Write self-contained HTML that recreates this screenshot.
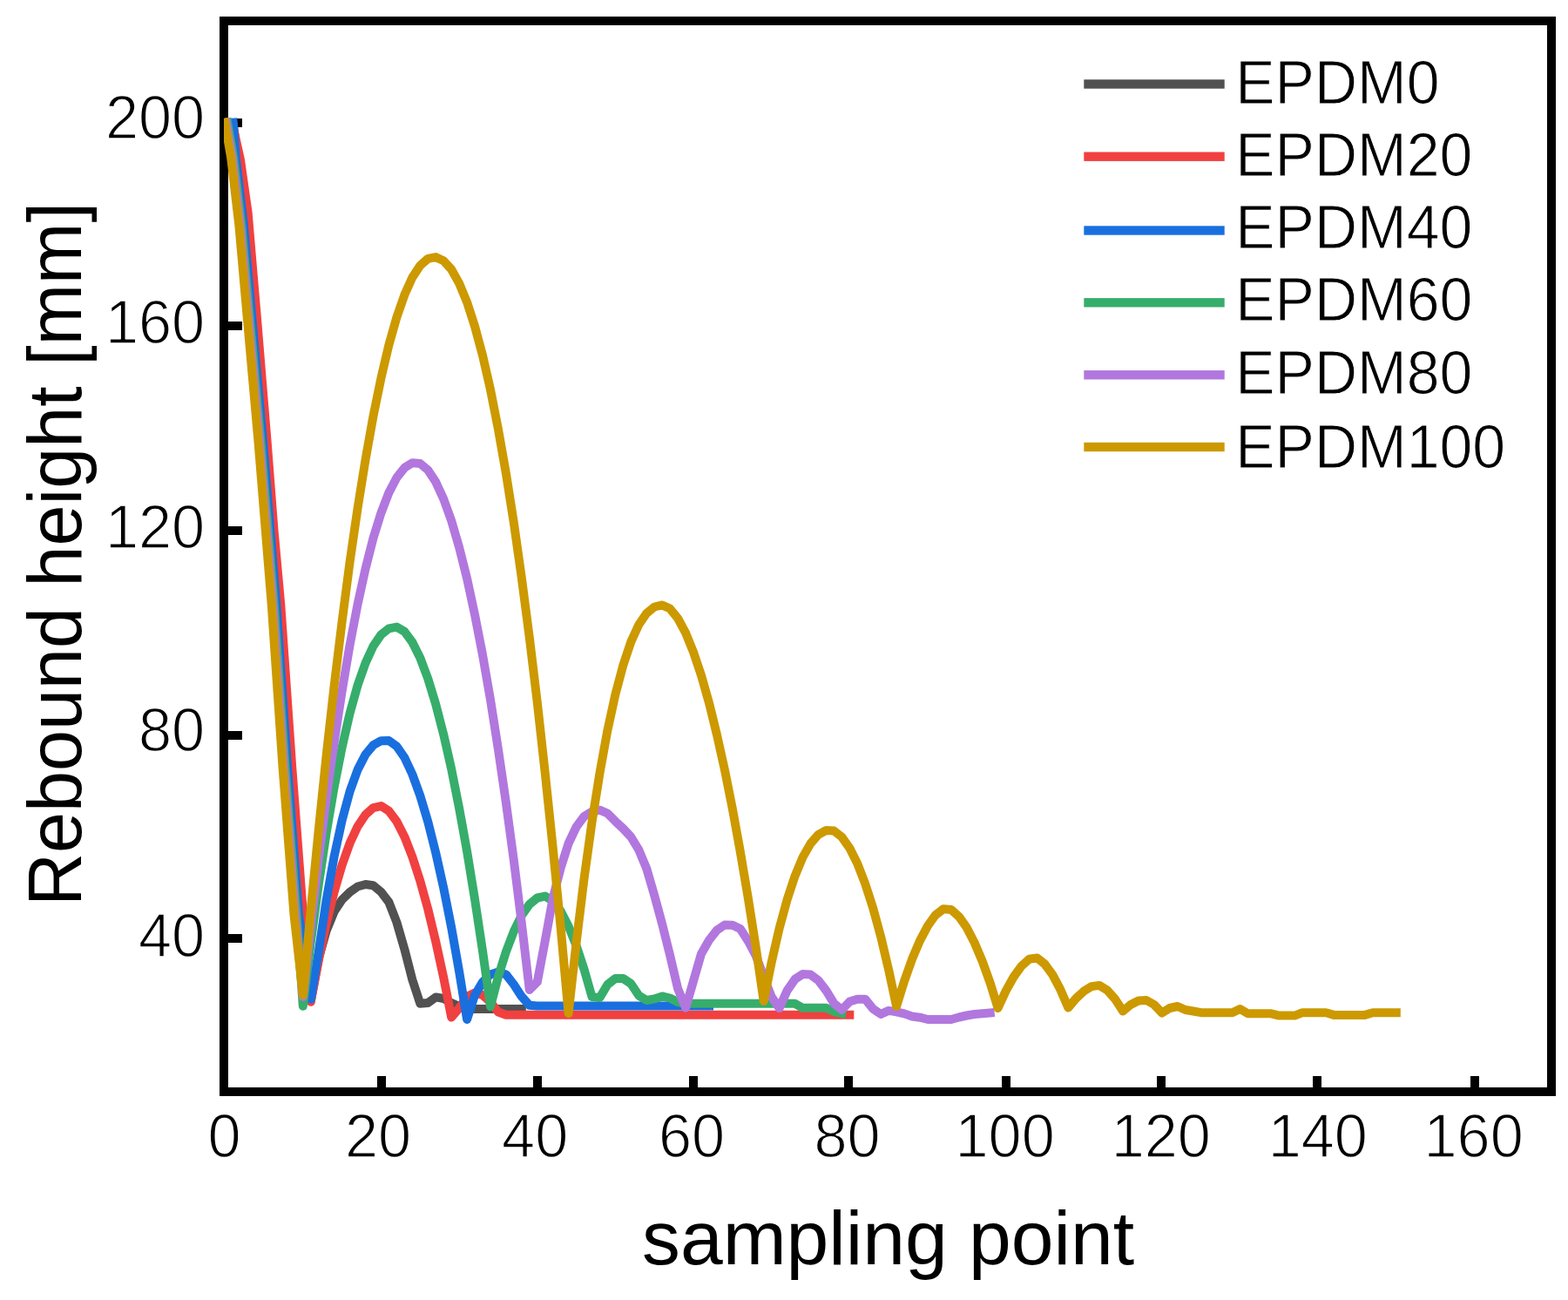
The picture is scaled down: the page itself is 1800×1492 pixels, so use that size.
<!DOCTYPE html>
<html lang="en">
<head>
<meta charset="utf-8">
<title>Rebound height vs sampling point</title>
<style>
html,body{margin:0;padding:0;background:#fff;}
body{width:1800px;height:1492px;overflow:hidden;}
svg{display:block;}
text{font-family:"Liberation Sans",sans-serif;fill:#000;}
.c{fill:none;stroke-width:10;stroke-linejoin:round;stroke-linecap:square;}
.tl{stroke:#fff;stroke-width:1.0;stroke-linejoin:round;}
.tt text{stroke:#fff;stroke-width:1.4;stroke-linejoin:round;}
</style>
</head>
<body>
<svg width="1800" height="1492" viewBox="0 0 1800 1492">
<rect x="0" y="0" width="1800" height="1492" fill="#ffffff"/>
<defs><clipPath id="plot"><rect x="257" y="24" width="1524" height="1229"/></clipPath></defs>
<g fill="#000" shape-rendering="crispEdges">
<rect x="252" y="19" width="1534" height="10"/>
<rect x="252" y="1248" width="1534" height="10"/>
<rect x="252" y="19" width="10" height="1239"/>
<rect x="1776" y="19" width="10" height="1239"/>
<rect x="433.3" y="1235" width="10" height="14"/>
<rect x="612.0" y="1235" width="10" height="14"/>
<rect x="790.7" y="1235" width="10" height="14"/>
<rect x="969.0" y="1235" width="10" height="14"/>
<rect x="1150.0" y="1235" width="10" height="14"/>
<rect x="1328.3" y="1235" width="10" height="14"/>
<rect x="1507.0" y="1235" width="10" height="14"/>
<rect x="1688.0" y="1235" width="10" height="14"/>
<rect x="261" y="135.5" width="17" height="10.3"/>
<rect x="261" y="368.6" width="17" height="10.3"/>
<rect x="261" y="603.9" width="17" height="10.3"/>
<rect x="261" y="839.0" width="17" height="10.3"/>
<rect x="261" y="1072.0" width="17" height="10.3"/>
</g>
<g clip-path="url(#plot)">
<path class="c" stroke="#515151" d="M268.0,145.0 L273.2,181.0 L282.4,259.0 L293.5,384.0 L304.5,507.0 L319.8,694.5 L332.5,880.0 L345.5,1050.0 L356.8,1148.0 L365.8,1100.0 L374.7,1068.0 L383.7,1046.0 L392.7,1032.5 L401.6,1023.8 L410.6,1017.5 L419.6,1015.0 L428.5,1016.2 L437.5,1023.8 L446.4,1035.4 L455.4,1058.5 L464.4,1089.6 L473.3,1124.2 L482.3,1151.7 L491.3,1151.0 L500.2,1144.4 L509.2,1146.0 L518.2,1151.0 L527.1,1155.0 L536.1,1158.0 L545.0,1158.0 L554.0,1158.0 L563.0,1158.0 L571.9,1158.0 L580.9,1158.0 L589.9,1158.0 L598.8,1158.0"/>
<path class="c" stroke="#F14040" d="M269.0,152.0 L275.9,183.0 L284.6,244.0 L295.4,371.0 L306.6,507.0 L314.6,610.0 L322.3,694.5 L335.2,880.0 L348.0,1050.0 L356.8,1149.7 L365.8,1101.9 L374.7,1059.7 L383.7,1023.3 L392.7,992.6 L401.6,967.7 L410.6,948.4 L419.6,934.9 L428.5,927.1 L437.5,925.1 L446.4,930.7 L455.4,942.7 L464.4,960.4 L473.3,983.3 L482.3,1011.0 L491.3,1043.5 L500.2,1080.5 L509.2,1121.9 L518.2,1167.6 L527.1,1157.0 L536.1,1143.7 L545.0,1139.4 L554.0,1142.0 L563.0,1150.0 L571.9,1161.5 L580.9,1164.7 L589.9,1164.7 L598.8,1164.7 L607.8,1164.7 L616.8,1164.7 L625.7,1164.7 L634.7,1164.7 L643.7,1164.7 L652.6,1164.7 L661.6,1164.7 L670.5,1164.7 L679.5,1164.7 L688.5,1164.7 L697.4,1164.7 L706.4,1164.7 L715.4,1164.7 L724.3,1164.7 L733.3,1164.7 L742.3,1164.7 L751.2,1164.7 L760.2,1164.7 L769.1,1164.7 L778.1,1164.7 L787.1,1164.7 L796.0,1164.7 L805.0,1164.7 L814.0,1164.7 L822.9,1164.7 L831.9,1164.7 L840.9,1164.7 L849.8,1164.7 L858.8,1164.7 L867.8,1164.7 L876.7,1164.7 L885.7,1164.7 L894.6,1164.7 L903.6,1164.7 L912.6,1164.7 L921.5,1164.7 L930.5,1164.7 L939.5,1164.7 L948.4,1164.7 L957.4,1164.7 L966.4,1164.7 L975.3,1164.7"/>
<path class="c" stroke="#1A6FDF" d="M267.6,140.5 L270.7,181.0 L279.9,259.0 L291.0,384.0 L302.0,507.0 L317.3,694.5 L330.0,880.0 L343.0,1050.0 L356.8,1146.7 L365.8,1092.0 L374.7,1032.6 L383.7,982.5 L392.7,941.2 L401.6,908.3 L410.6,883.4 L419.6,865.9 L428.5,855.2 L437.5,850.2 L446.4,850.0 L455.4,856.5 L464.4,869.5 L473.3,888.5 L482.3,913.2 L491.3,943.3 L500.2,978.6 L509.2,1019.0 L518.2,1064.5 L527.1,1114.8 L536.1,1170.0 L545.0,1142.3 L554.0,1127.0 L563.0,1118.4 L571.9,1115.6 L580.9,1118.4 L589.9,1130.0 L598.8,1143.7 L607.8,1153.8 L616.8,1154.5 L625.7,1154.5 L634.7,1154.5 L643.7,1154.5 L652.6,1154.5 L661.6,1154.5 L670.5,1154.5 L679.5,1154.5 L688.5,1154.5 L697.4,1154.5 L706.4,1154.5 L715.4,1154.5 L724.3,1154.5 L733.3,1154.5 L742.3,1154.5 L751.2,1154.5 L760.2,1154.5 L769.1,1154.5 L778.1,1154.5 L787.1,1154.5 L796.0,1154.5 L805.0,1154.5 L814.0,1154.5"/>
<path class="c" stroke="#37AD6B" d="M261.2,140.5 L268.2,181.0 L277.4,259.0 L288.5,384.0 L299.5,507.0 L314.8,694.5 L327.5,880.0 L340.5,1050.0 L347.8,1154.7 L356.8,1081.2 L365.8,1014.8 L374.7,955.5 L383.7,903.0 L392.7,857.4 L401.6,818.6 L410.6,786.4 L419.6,760.8 L428.5,741.5 L437.5,728.4 L446.4,721.3 L455.4,719.6 L464.4,724.9 L473.3,737.0 L482.3,755.1 L491.3,779.0 L500.2,808.3 L509.2,842.9 L518.2,882.6 L527.1,927.5 L536.1,977.2 L545.0,1031.8 L554.0,1091.2 L563.0,1155.3 L571.9,1121.0 L580.9,1092.2 L589.9,1068.7 L598.8,1050.6 L607.8,1037.8 L616.8,1030.5 L625.7,1028.6 L634.7,1034.1 L643.7,1045.8 L652.6,1063.0 L661.6,1085.3 L670.5,1112.4 L679.5,1144.0 L688.5,1145.0 L697.4,1130.0 L706.4,1123.0 L715.4,1123.0 L724.3,1129.0 L733.3,1142.6 L742.3,1148.0 L751.2,1146.4 L760.2,1143.4 L769.1,1145.5 L778.1,1150.0 L787.1,1151.8 L796.0,1151.8 L805.0,1151.8 L814.0,1151.8 L822.9,1151.8 L831.9,1151.8 L840.9,1151.8 L849.8,1151.8 L858.8,1151.8 L867.8,1151.8 L876.7,1151.8 L885.7,1151.8 L894.6,1151.8 L903.6,1151.8 L912.6,1151.8 L921.5,1156.8 L930.5,1156.8 L939.5,1156.8 L948.4,1156.8 L957.4,1161.0 L966.4,1163.0"/>
<path class="c" stroke="#B177DE" d="M259.7,140.5 L266.7,181.0 L275.9,259.0 L287.0,384.0 L298.0,507.0 L313.3,694.5 L326.0,880.0 L339.0,1050.0 L347.8,1144.0 L356.8,1062.0 L365.8,985.8 L374.7,915.5 L383.7,851.2 L392.7,792.7 L401.6,740.1 L410.6,693.4 L419.6,652.5 L428.5,617.6 L437.5,588.6 L446.4,565.4 L455.4,548.2 L464.4,536.8 L473.3,531.3 L482.3,532.0 L491.3,539.5 L500.2,553.1 L509.2,572.6 L518.2,597.6 L527.1,628.1 L536.1,664.0 L545.0,705.2 L554.0,751.5 L563.0,803.1 L571.9,859.7 L580.9,921.3 L589.9,987.9 L598.8,1059.5 L607.8,1136.0 L616.8,1127.0 L625.7,1080.0 L634.7,1031.0 L643.7,996.0 L652.6,968.0 L661.6,949.0 L670.5,937.0 L679.5,931.5 L688.5,929.7 L697.4,933.5 L706.4,942.6 L715.4,951.0 L724.3,960.5 L733.3,975.3 L742.3,997.0 L751.2,1027.6 L760.2,1060.7 L769.1,1096.4 L778.1,1134.7 L787.1,1156.7 L796.0,1126.0 L805.0,1094.7 L814.0,1079.0 L822.9,1067.7 L831.9,1061.5 L840.9,1061.7 L849.8,1066.0 L858.8,1080.0 L867.8,1097.0 L876.7,1121.0 L885.7,1144.0 L894.6,1157.1 L903.6,1136.9 L912.6,1123.8 L921.5,1118.0 L930.5,1118.6 L939.5,1125.2 L948.4,1136.9 L957.4,1151.7 L966.4,1158.9 L975.3,1149.6 L984.3,1146.7 L993.2,1146.7 L1002.2,1157.8 L1011.2,1164.0 L1020.1,1159.9 L1029.1,1161.3 L1038.1,1163.4 L1047.0,1166.5 L1056.0,1167.7 L1065.0,1170.0 L1073.9,1170.0 L1082.9,1170.0 L1091.9,1170.0 L1100.8,1167.5 L1109.8,1165.5 L1118.7,1164.0 L1127.7,1163.2 L1136.7,1162.4"/>
<path class="c" stroke="#CC9900" d="M258.2,140.5 L265.2,181.0 L274.4,259.0 L285.5,384.0 L296.5,507.0 L311.8,694.5 L324.5,880.0 L337.5,1050.0 L347.8,1142.0 L356.8,1044.1 L365.8,952.3 L374.7,866.5 L383.7,786.6 L392.7,712.8 L401.6,644.9 L410.6,583.1 L419.6,527.3 L428.5,477.5 L437.5,433.7 L446.4,395.9 L455.4,364.1 L464.4,338.3 L473.3,318.5 L482.3,304.7 L491.3,296.9 L500.2,295.1 L509.2,299.3 L518.2,309.2 L527.1,325.1 L536.1,346.8 L545.0,374.4 L554.0,407.9 L563.0,447.2 L571.9,492.4 L580.9,543.4 L589.9,600.4 L598.8,663.1 L607.8,731.8 L616.8,806.3 L625.7,886.7 L634.7,972.9 L643.7,1065.0 L652.6,1163.0 L661.6,1081.6 L670.5,1008.6 L679.5,943.8 L688.5,887.1 L697.4,838.2 L706.4,797.0 L715.4,763.3 L724.3,736.7 L733.3,717.0 L742.3,703.8 L751.2,696.5 L760.2,694.4 L769.1,698.6 L778.1,709.6 L787.1,726.3 L796.0,748.3 L805.0,775.2 L814.0,806.8 L822.9,843.0 L831.9,883.5 L840.9,928.4 L849.8,977.5 L858.8,1030.6 L867.8,1087.8 L876.7,1149.0 L885.7,1104.3 L894.6,1065.5 L903.6,1032.5 L912.6,1005.3 L921.5,983.9 L930.5,968.1 L939.5,957.8 L948.4,953.0 L957.4,953.6 L966.4,960.6 L975.3,973.3 L984.3,991.2 L993.2,1014.3 L1002.2,1042.3 L1011.2,1075.2 L1020.1,1112.8 L1029.1,1155.0 L1038.1,1126.0 L1047.0,1100.8 L1056.0,1079.6 L1065.0,1062.6 L1073.9,1050.2 L1082.9,1043.2 L1091.9,1044.0 L1100.8,1051.9 L1109.8,1064.7 L1118.7,1082.0 L1127.7,1103.3 L1136.7,1128.3 L1145.6,1157.0 L1154.6,1137.4 L1163.6,1121.2 L1172.5,1108.9 L1181.5,1100.8 L1190.5,1099.4 L1199.4,1106.5 L1208.4,1118.9 L1217.3,1135.7 L1226.3,1156.5 L1235.3,1145.8 L1244.2,1137.6 L1253.2,1132.1 L1262.2,1130.9 L1271.1,1136.5 L1280.1,1146.6 L1289.1,1160.5 L1298.0,1153.0 L1307.0,1148.5 L1316.0,1148.0 L1324.9,1153.0 L1333.9,1162.5 L1342.8,1157.0 L1351.8,1155.0 L1360.8,1159.0 L1369.7,1160.5 L1378.7,1162.2 L1387.7,1162.2 L1396.6,1162.2 L1405.6,1162.2 L1414.6,1162.2 L1423.5,1158.0 L1432.5,1163.3 L1441.4,1163.3 L1450.4,1163.3 L1459.4,1163.3 L1468.3,1165.6 L1477.3,1165.6 L1486.3,1165.6 L1495.2,1162.2 L1504.2,1162.2 L1513.2,1162.2 L1522.1,1162.2 L1531.1,1164.9 L1540.1,1164.9 L1549.0,1164.9 L1558.0,1164.9 L1566.9,1164.9 L1575.9,1162.2 L1584.9,1162.2 L1593.8,1162.2 L1602.8,1162.2"/>
</g>
<g>
<rect x="1244.3" y="91.3" width="161.4" height="10.4" fill="#515151"/>
<text transform="translate(1418.2,119.4) scale(1,1.042)" font-size="68" class="tl">EPDM0</text>
<rect x="1244.3" y="174.5" width="161.4" height="10.4" fill="#F14040"/>
<text transform="translate(1418.2,201.7) scale(1,1.042)" font-size="68" class="tl">EPDM20</text>
<rect x="1244.3" y="259.3" width="161.4" height="10.4" fill="#1A6FDF"/>
<text transform="translate(1418.2,285.1) scale(1,1.042)" font-size="68" class="tl">EPDM40</text>
<rect x="1244.3" y="342.1" width="161.4" height="10.4" fill="#37AD6B"/>
<text transform="translate(1418.2,367.9) scale(1,1.042)" font-size="68" class="tl">EPDM60</text>
<rect x="1244.3" y="425.1" width="161.4" height="10.4" fill="#B177DE"/>
<text transform="translate(1418.2,451.6) scale(1,1.042)" font-size="68" class="tl">EPDM80</text>
<rect x="1244.3" y="507.8" width="161.4" height="10.4" fill="#CC9900"/>
<text transform="translate(1418.2,536.6) scale(1,1.042)" font-size="68" class="tl">EPDM100</text>
</g>
<g font-size="68.5" text-anchor="middle" class="tt">
<text transform="translate(257.5,1328.4) scale(1,1.035)">0</text>
<text transform="translate(434.0,1328.4) scale(1,1.035)">20</text>
<text transform="translate(614.2,1328.4) scale(1,1.035)">40</text>
<text transform="translate(794.0,1328.4) scale(1,1.035)">60</text>
<text transform="translate(972.5,1328.4) scale(1,1.035)">80</text>
<text transform="translate(1153.6,1328.4) scale(1,1.035)">100</text>
<text transform="translate(1332.8,1328.4) scale(1,1.035)">120</text>
<text transform="translate(1512.8,1328.4) scale(1,1.035)">140</text>
<text transform="translate(1691.6,1328.4) scale(1,1.035)">160</text>
</g>
<g font-size="68.5" text-anchor="end" class="tt">
<text transform="translate(235.2,158.8) scale(1,1.035)">200</text>
<text transform="translate(235.2,394.1) scale(1,1.035)">160</text>
<text transform="translate(235.2,629.1) scale(1,1.035)">120</text>
<text transform="translate(235.2,862.1) scale(1,1.035)">80</text>
<text transform="translate(235.2,1097.6) scale(1,1.035)">40</text>
</g>
<text x="1019.6" y="1451.3" font-size="88" text-anchor="middle" textLength="565" lengthAdjust="spacingAndGlyphs">sampling point</text>
<text transform="translate(92.5,636) rotate(-90)" font-size="87" text-anchor="middle" textLength="808" lengthAdjust="spacingAndGlyphs">Rebound height [mm]</text>
</svg>
</body>
</html>
